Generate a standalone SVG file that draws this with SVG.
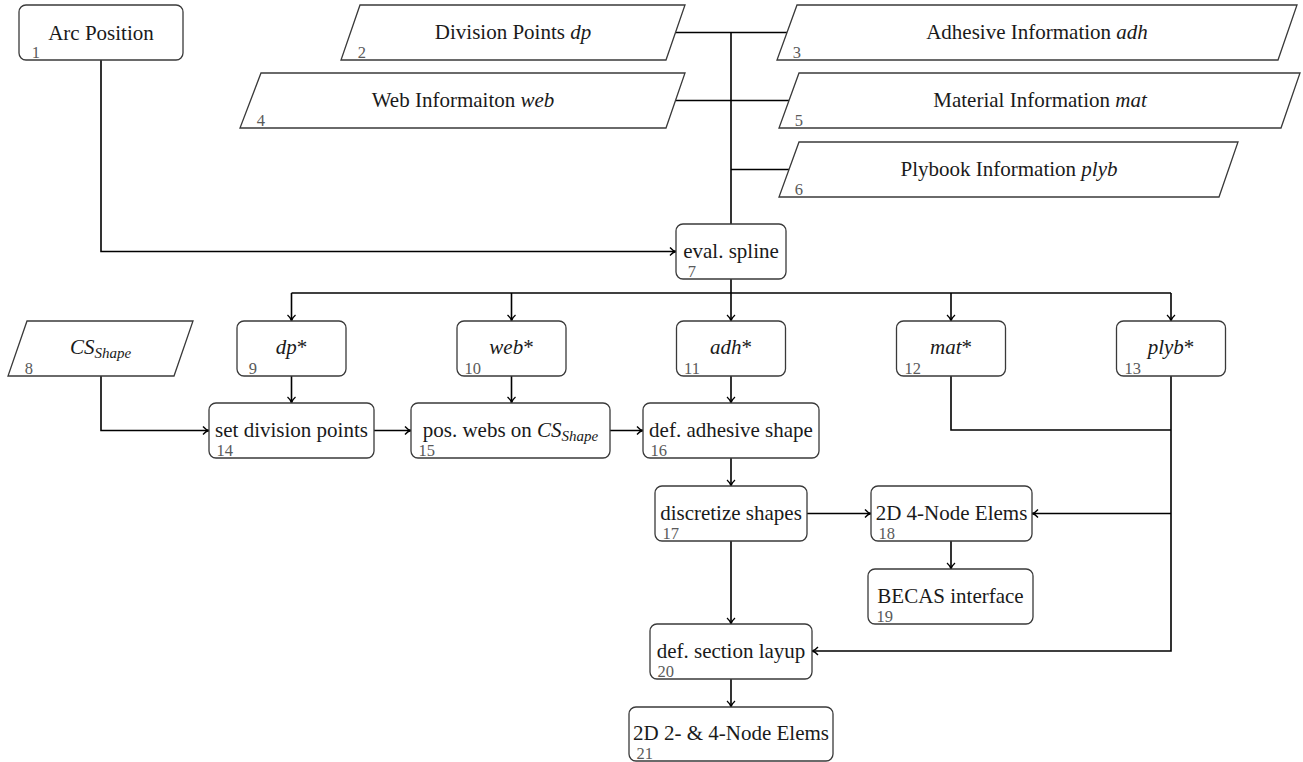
<svg xmlns="http://www.w3.org/2000/svg" width="1303" height="762" viewBox="0 0 1303 762">
<style>
.box{fill:#fff;stroke:#3a3a3a;stroke-width:1.3}
.lbl{font-size:21px;fill:#1a1a1a;text-anchor:middle}
.num{font-size:16.5px;fill:#5a5a5a;text-anchor:end}
.m{font-style:italic}
.sub{font-style:italic;font-size:15px}
#connectors path{fill:none;stroke:#000;stroke-width:1.6}
.a{marker-end:url(#arr)}
</style>
<defs>
<marker id="arr" markerUnits="userSpaceOnUse" markerWidth="12" markerHeight="12" viewBox="-8 -6 12 12" refX="0" refY="0" orient="auto" overflow="visible">
<path d="M-6,-4 C-4,-1.6 -1.6,-0.3 0,0 C-1.6,0.3 -4,1.6 -6,4" fill="none" stroke="#000" stroke-width="1.3"/>
</marker>
</defs>
<rect width="1303" height="762" fill="#fff"/>
<g id="connectors">
<path d="M101,60 V251.5 H676" class="a"/>
<path d="M676,32.5 H787"/>
<path d="M676,100.5 H789"/>
<path d="M731,169.5 H789"/>
<path d="M731,32.5 V224"/>
<path d="M731,279 V321" class="a"/>
<path d="M291.5,293 H1171"/>
<path d="M291.5,293 V321" class="a"/>
<path d="M511.5,293 V321" class="a"/>
<path d="M951,293 V321" class="a"/>
<path d="M1171,293 V321" class="a"/>
<path d="M101,376 V430.5 H209" class="a"/>
<path d="M291.5,376 V403" class="a"/>
<path d="M511.5,376 V403" class="a"/>
<path d="M731,376 V403" class="a"/>
<path d="M374,430.5 H411" class="a"/>
<path d="M610,430.5 H643" class="a"/>
<path d="M731,458 V486" class="a"/>
<path d="M807,513.5 H871" class="a"/>
<path d="M951,541 V569" class="a"/>
<path d="M731,541 V624" class="a"/>
<path d="M731,679 V707" class="a"/>
<path d="M951,376 V430 H1171"/>
<path d="M1171,376 V651 H812" class="a"/>
<path d="M1171,513.5 H1032" class="a"/>
</g>
<g font-family="Liberation Serif, Times New Roman, DejaVu Serif, Noto Serif, serif">
<g id="n1"><rect class="box" x="19" y="5" width="164" height="55" rx="7"/><text class="lbl" x="101" y="39.5">Arc Position</text><text class="num" x="40" y="58">1</text></g>
<g id="n2"><path class="box" d="M360,5 H685 L666,60 H341 Z"/><text class="lbl" x="513" y="38.5">Division Points <tspan class="m">dp</tspan></text><text class="num" x="366" y="58">2</text></g>
<g id="n3"><path class="box" d="M797,5 H1297 L1278,60 H777 Z"/><text class="lbl" x="1037" y="38.5">Adhesive Information <tspan class="m">adh</tspan></text><text class="num" x="801" y="58">3</text></g>
<g id="n4"><path class="box" d="M261,73 H685 L666,128 H240 Z"/><text class="lbl" x="463" y="106.5">Web Informaiton <tspan class="m">web</tspan></text><text class="num" x="265" y="126">4</text></g>
<g id="n5"><path class="box" d="M799,73 H1300 L1281,128 H779 Z"/><text class="lbl" x="1040" y="106.5">Material Information <tspan class="m">mat</tspan></text><text class="num" x="803" y="126">5</text></g>
<g id="n6"><path class="box" d="M799,142 H1238 L1219,197 H779 Z"/><text class="lbl" x="1009" y="175.5">Plybook Information <tspan class="m">plyb</tspan></text><text class="num" x="803" y="195">6</text></g>
<g id="n7"><rect class="box" x="676" y="224" width="110" height="55" rx="7"/><text class="lbl" x="731" y="257.5">eval. spline</text><text class="num" x="696" y="277">7</text></g>
<g id="n8"><path class="box" d="M27,321 H193 L174,376 H8 Z"/><text class="lbl" x="100.5" y="354"><tspan class="m">CS</tspan><tspan class="sub" dy="4">Shape</tspan></text><text class="num" x="33" y="374">8</text></g>
<g id="n9"><rect class="box" x="237" y="321" width="109" height="55" rx="7"/><text class="lbl" x="291.5" y="354"><tspan class="m">dp</tspan>*</text><text class="num" x="257" y="374">9</text></g>
<g id="n10"><rect class="box" x="457" y="321" width="109" height="55" rx="7"/><text class="lbl" x="511.5" y="354"><tspan class="m">web</tspan>*</text><text class="num" x="481" y="374">10</text></g>
<g id="n11"><rect class="box" x="676.5" y="321" width="109" height="55" rx="7"/><text class="lbl" x="731" y="354"><tspan class="m">adh</tspan>*</text><text class="num" x="700" y="374">11</text></g>
<g id="n12"><rect class="box" x="896.5" y="321" width="109" height="55" rx="7"/><text class="lbl" x="951" y="354"><tspan class="m">mat</tspan>*</text><text class="num" x="921" y="374">12</text></g>
<g id="n13"><rect class="box" x="1116.5" y="321" width="109" height="55" rx="7"/><text class="lbl" x="1171" y="354"><tspan class="m">plyb</tspan>*</text><text class="num" x="1141" y="374">13</text></g>
<g id="n14"><rect class="box" x="209" y="403" width="165" height="55" rx="7"/><text class="lbl" x="291.5" y="436.5">set division points</text><text class="num" x="233" y="456">14</text></g>
<g id="n15"><rect class="box" x="411" y="403" width="199" height="55" rx="7"/><text class="lbl" x="510.5" y="436.5">pos. webs on <tspan class="m">CS</tspan><tspan class="sub" dy="4">Shape</tspan></text><text class="num" x="435" y="456">15</text></g>
<g id="n16"><rect class="box" x="643" y="403" width="176" height="55" rx="7"/><text class="lbl" x="731" y="436.5">def. adhesive shape</text><text class="num" x="667" y="456">16</text></g>
<g id="n17"><rect class="box" x="655" y="486" width="152" height="55" rx="7"/><text class="lbl" x="731" y="519.5">discretize shapes</text><text class="num" x="679" y="539">17</text></g>
<g id="n18"><rect class="box" x="871" y="486" width="161" height="55" rx="7"/><text class="lbl" x="951.5" y="519.5">2D 4-Node Elems</text><text class="num" x="895" y="539">18</text></g>
<g id="n19"><rect class="box" x="868" y="569" width="165" height="55" rx="7"/><text class="lbl" x="950.5" y="602.5">BECAS interface</text><text class="num" x="893" y="622">19</text></g>
<g id="n20"><rect class="box" x="650" y="624" width="162" height="55" rx="7"/><text class="lbl" x="731" y="657.5">def. section layup</text><text class="num" x="674" y="677">20</text></g>
<g id="n21"><rect class="box" x="629" y="707" width="204" height="54" rx="7"/><text class="lbl" x="731" y="740">2D 2- &amp; 4-Node Elems</text><text class="num" x="653" y="759">21</text></g>
</g>
</svg>
